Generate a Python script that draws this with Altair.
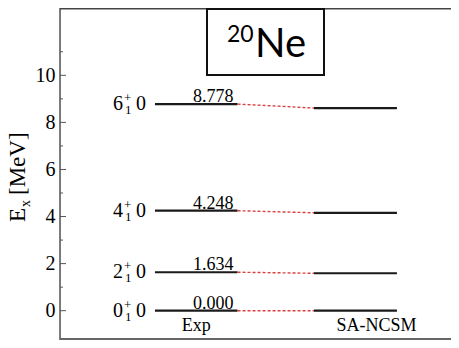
import altair as alt
import pandas as pd

# ---- data ----
spins = ["0", "2", "4", "6"]
exp_energy = [0.000, 1.634, 4.248, 8.778]
exp_text = ["0.000", "1.634", "4.248", "8.778"]
sa_energy = [0.00, 1.59, 4.16, 8.61]
major_ticks = [0, 2, 4, 6, 8, 10]
minor_ticks = [1, 3, 5, 7, 9, 11]
col_names = ["Exp", "SA-NCSM"]

# column layout (x data units)
EXP_X0, EXP_X1 = 0.952, 1.78
SA_X0, SA_X1 = 2.546, 3.378
XMAX = 3.92

W, H = 391, 332
OX, OY = 60, 8  # plot origin on the page
serif = "Liberation Serif"

df = pd.DataFrame({"spin": spins, "exp": exp_energy, "txt": exp_text, "sa": sa_energy})
df["ex0"], df["ex1"] = EXP_X0, EXP_X1
df["sx0"], df["sx1"] = SA_X0, SA_X1
df["exc"] = (EXP_X0 + EXP_X1) / 2
df["iso"] = "0"

xs = alt.Scale(domain=[0, XMAX], nice=False, zero=False)
ys = alt.Scale(domain=[-1.245, 12.86], nice=False, zero=False)


def X(f):
    return alt.X(f, type="quantitative", scale=xs, axis=None)


def Yf(f, axis=None):
    if axis is None:
        return alt.Y(f, type="quantitative", scale=ys)
    return alt.Y(f, type="quantitative", scale=ys, axis=axis)


yaxis = alt.Axis(values=major_ticks, ticks=False, domain=False, grid=False, labelPadding=5,
                 labelFont=serif, labelFontSize=20, labelColor="#000", title=None, format="d")

base = alt.Chart(df)

exp_lines = base.mark_rule(color="#1a1a1a", strokeWidth=2.2).encode(
    x=X("ex0"), x2="ex1", y=Yf("exp", yaxis))
sa_lines = base.mark_rule(color="#1a1a1a", strokeWidth=2.2).encode(
    x=X("sx0"), x2="sx1", y=Yf("sa"))
links = base.mark_rule(color="#d9413f", strokeWidth=1.4, strokeDash=[3, 2]).encode(
    x=X("ex1"), x2="sx0", y=Yf("exp"), y2="sa")
vals = base.mark_text(font=serif, fontSize=18, baseline="alphabetic", dx=17, dy=-2, color="#000").encode(
    x=X("exc"), y=Yf("exp"), text="txt")
spin_t = base.mark_text(font=serif, fontSize=20, align="right", baseline="middle", dx=-32, color="#000").encode(
    x=X("ex0"), y=Yf("exp"), text="spin")
plus_t = base.mark_text(font=serif, fontSize=13, align="left", baseline="middle", dx=-31, dy=-6, color="#000").encode(
    x=X("ex0"), y=Yf("exp"), text=alt.value("+"))
sub_t = base.mark_text(font=serif, fontSize=13, align="left", baseline="middle", dx=-30, dy=6, color="#000").encode(
    x=X("ex0"), y=Yf("exp"), text=alt.value("1"))
iso_t = base.mark_text(font=serif, fontSize=20, align="left", baseline="middle", dx=-19, color="#000").encode(
    x=X("ex0"), y=Yf("exp"), text="iso")

colnames = pd.DataFrame({"name": col_names,
                         "xc": [(EXP_X0 + EXP_X1) / 2, (SA_X0 + SA_X1) / 2 + 0.21],
                         "e": [0.0, 0.0]})
col_t = alt.Chart(colnames).mark_text(font=serif, fontSize=18, baseline="top", dy=6, color="#000").encode(
    x=X("xc"), y=Yf("e"), text="name")

maj = alt.Chart(pd.DataFrame({"v": major_ticks})).mark_rule(color="#555", strokeWidth=1).encode(
    x=alt.value(0), x2=alt.value(6), y=Yf("v"))
mnr = alt.Chart(pd.DataFrame({"v": minor_ticks})).mark_rule(color="#555", strokeWidth=1).encode(
    x=alt.value(0), x2=alt.value(3), y=Yf("v"))

# frame: left, top, bottom
frame_df = pd.DataFrame({"a": [0]})
left_line = alt.Chart(frame_df).mark_rule(color="#555", strokeWidth=1.5).encode(
    x=alt.value(0), y=alt.value(0), y2=alt.value(H))
top_line = alt.Chart(frame_df).mark_rule(color="#444", strokeWidth=1.5).encode(
    x=alt.value(0), x2=alt.value(W), y=alt.value(0.75))
bot_line = alt.Chart(frame_df).mark_rule(color="#666", strokeWidth=2).encode(
    x=alt.value(0), x2=alt.value(W), y=alt.value(H - 1))


def label(t, px, py, size, font=serif, angle=None):
    kw = dict(font=font, fontSize=size, align="left", baseline="alphabetic", color="#000")
    if angle is not None:
        kw["angle"] = angle
    return alt.Chart(pd.DataFrame({"t": [t]})).mark_text(**kw).encode(
        x=alt.value(px - OX), y=alt.value(py - OY), text="t")


# y axis title (rotated, with subscript)
ytitle_E = label("E", 25, 222, 23, angle=270)
ytitle_x = label("x", 30, 207, 14, angle=270)
ytitle_r = label("[MeV]", 25, 195, 23, angle=270)

# title box
box = alt.Chart(frame_df).mark_rect(fill="white", stroke="#111", strokeWidth=2).encode(
    x=alt.value(207 - OX), x2=alt.value(324 - OX), y=alt.value(9 - OY), y2=alt.value(75 - OY))
t20 = label("20", 227, 42, 23, font="Lato")
tNe = label("Ne", 255, 57, 40, font="Lato")

chart = alt.layer(
    exp_lines, sa_lines, links, vals, spin_t, plus_t, sub_t, iso_t, col_t,
    maj, mnr, left_line, top_line, bot_line,
    ytitle_E, ytitle_x, ytitle_r, box, t20, tNe
).properties(
    width=W, height=H,
    autosize=alt.AutoSizeParams(type="none"),
    padding={"left": OX - 8, "top": 0, "right": 0, "bottom": 0},
).configure_view(stroke=None).configure(background="white")

chart.save("out.html", embed_options={"renderer": "svg", "actions": False})
